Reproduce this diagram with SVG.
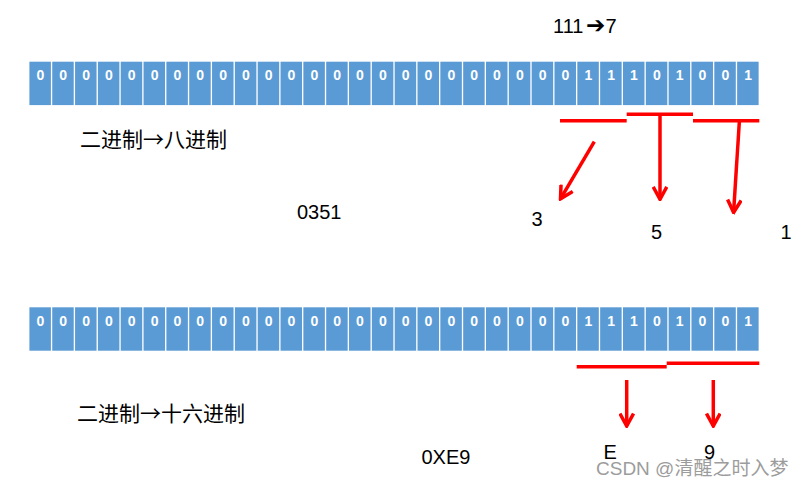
<svg xmlns="http://www.w3.org/2000/svg" width="802" height="488" viewBox="0 0 802 488">
<style>
.c{fill:#5B9BD5}
.b{fill:#fff;font-family:"Liberation Sans",Arial,sans-serif;font-weight:bold;font-size:14px;text-anchor:middle}
.t{fill:#000;font-family:"Liberation Sans",Arial,sans-serif;font-size:20px}
.cn{fill:#000;font-family:"Noto Sans CJK SC","Liberation Sans",sans-serif;font-size:21px}
.wm{fill:#9c9c9c;font-family:"Liberation Sans","Noto Sans CJK SC",sans-serif;font-size:19px}
.r{stroke:#FF0000;stroke-width:3.5;fill:none}
</style>
<defs>
<marker id="ah" markerUnits="userSpaceOnUse" viewBox="0 0 16 16" refX="14" refY="8" markerWidth="16" markerHeight="16" orient="auto">
<path d="M1.5,1.2 L14,8 L1.5,14.8" fill="none" stroke="#FF0000" stroke-width="3.5" stroke-linejoin="miter"/>
</marker>
</defs>
<rect width="802" height="488" fill="#fff"/>
<g id="row1">
<g id="a0" transform="translate(29.4,61.7)"><rect class="c" width="21.5" height="43.4"/><text class="b" x="11" y="18.5">0</text></g>
<g id="a1" transform="translate(52.23,61.7)"><rect class="c" width="21.5" height="43.4"/><text class="b" x="11" y="18.5">0</text></g>
<g id="a2" transform="translate(75.06,61.7)"><rect class="c" width="21.5" height="43.4"/><text class="b" x="11" y="18.5">0</text></g>
<g id="a3" transform="translate(97.89,61.7)"><rect class="c" width="21.5" height="43.4"/><text class="b" x="11" y="18.5">0</text></g>
<g id="a4" transform="translate(120.72,61.7)"><rect class="c" width="21.5" height="43.4"/><text class="b" x="11" y="18.5">0</text></g>
<g id="a5" transform="translate(143.55,61.7)"><rect class="c" width="21.5" height="43.4"/><text class="b" x="11" y="18.5">0</text></g>
<g id="a6" transform="translate(166.38,61.7)"><rect class="c" width="21.5" height="43.4"/><text class="b" x="11" y="18.5">0</text></g>
<g id="a7" transform="translate(189.21,61.7)"><rect class="c" width="21.5" height="43.4"/><text class="b" x="11" y="18.5">0</text></g>
<g id="a8" transform="translate(212.04,61.7)"><rect class="c" width="21.5" height="43.4"/><text class="b" x="11" y="18.5">0</text></g>
<g id="a9" transform="translate(234.87,61.7)"><rect class="c" width="21.5" height="43.4"/><text class="b" x="11" y="18.5">0</text></g>
<g id="a10" transform="translate(257.7,61.7)"><rect class="c" width="21.5" height="43.4"/><text class="b" x="11" y="18.5">0</text></g>
<g id="a11" transform="translate(280.53,61.7)"><rect class="c" width="21.5" height="43.4"/><text class="b" x="11" y="18.5">0</text></g>
<g id="a12" transform="translate(303.36,61.7)"><rect class="c" width="21.5" height="43.4"/><text class="b" x="11" y="18.5">0</text></g>
<g id="a13" transform="translate(326.19,61.7)"><rect class="c" width="21.5" height="43.4"/><text class="b" x="11" y="18.5">0</text></g>
<g id="a14" transform="translate(349.02,61.7)"><rect class="c" width="21.5" height="43.4"/><text class="b" x="11" y="18.5">0</text></g>
<g id="a15" transform="translate(371.85,61.7)"><rect class="c" width="21.5" height="43.4"/><text class="b" x="11" y="18.5">0</text></g>
<g id="a16" transform="translate(394.68,61.7)"><rect class="c" width="21.5" height="43.4"/><text class="b" x="11" y="18.5">0</text></g>
<g id="a17" transform="translate(417.51,61.7)"><rect class="c" width="21.5" height="43.4"/><text class="b" x="11" y="18.5">0</text></g>
<g id="a18" transform="translate(440.34,61.7)"><rect class="c" width="21.5" height="43.4"/><text class="b" x="11" y="18.5">0</text></g>
<g id="a19" transform="translate(463.17,61.7)"><rect class="c" width="21.5" height="43.4"/><text class="b" x="11" y="18.5">0</text></g>
<g id="a20" transform="translate(486,61.7)"><rect class="c" width="21.5" height="43.4"/><text class="b" x="11" y="18.5">0</text></g>
<g id="a21" transform="translate(508.83,61.7)"><rect class="c" width="21.5" height="43.4"/><text class="b" x="11" y="18.5">0</text></g>
<g id="a22" transform="translate(531.66,61.7)"><rect class="c" width="21.5" height="43.4"/><text class="b" x="11" y="18.5">0</text></g>
<g id="a23" transform="translate(554.49,61.7)"><rect class="c" width="21.5" height="43.4"/><text class="b" x="11" y="18.5">0</text></g>
<g id="a24" transform="translate(577.32,61.7)"><rect class="c" width="21.5" height="43.4"/><text class="b" x="11" y="18.5">1</text></g>
<g id="a25" transform="translate(600.15,61.7)"><rect class="c" width="21.5" height="43.4"/><text class="b" x="11" y="18.5">1</text></g>
<g id="a26" transform="translate(622.98,61.7)"><rect class="c" width="21.5" height="43.4"/><text class="b" x="11" y="18.5">1</text></g>
<g id="a27" transform="translate(645.81,61.7)"><rect class="c" width="21.5" height="43.4"/><text class="b" x="11" y="18.5">0</text></g>
<g id="a28" transform="translate(668.64,61.7)"><rect class="c" width="21.5" height="43.4"/><text class="b" x="11" y="18.5">1</text></g>
<g id="a29" transform="translate(691.47,61.7)"><rect class="c" width="21.5" height="43.4"/><text class="b" x="11" y="18.5">0</text></g>
<g id="a30" transform="translate(714.3,61.7)"><rect class="c" width="21.5" height="43.4"/><text class="b" x="11" y="18.5">0</text></g>
<g id="a31" transform="translate(737.13,61.7)"><rect class="c" width="21.5" height="43.4"/><text class="b" x="11" y="18.5">1</text></g>
</g>
<g id="row2">
<g id="b0" transform="translate(29.4,307.3)"><rect class="c" width="21.5" height="43.4"/><text class="b" x="11" y="18.5">0</text></g>
<g id="b1" transform="translate(52.23,307.3)"><rect class="c" width="21.5" height="43.4"/><text class="b" x="11" y="18.5">0</text></g>
<g id="b2" transform="translate(75.06,307.3)"><rect class="c" width="21.5" height="43.4"/><text class="b" x="11" y="18.5">0</text></g>
<g id="b3" transform="translate(97.89,307.3)"><rect class="c" width="21.5" height="43.4"/><text class="b" x="11" y="18.5">0</text></g>
<g id="b4" transform="translate(120.72,307.3)"><rect class="c" width="21.5" height="43.4"/><text class="b" x="11" y="18.5">0</text></g>
<g id="b5" transform="translate(143.55,307.3)"><rect class="c" width="21.5" height="43.4"/><text class="b" x="11" y="18.5">0</text></g>
<g id="b6" transform="translate(166.38,307.3)"><rect class="c" width="21.5" height="43.4"/><text class="b" x="11" y="18.5">0</text></g>
<g id="b7" transform="translate(189.21,307.3)"><rect class="c" width="21.5" height="43.4"/><text class="b" x="11" y="18.5">0</text></g>
<g id="b8" transform="translate(212.04,307.3)"><rect class="c" width="21.5" height="43.4"/><text class="b" x="11" y="18.5">0</text></g>
<g id="b9" transform="translate(234.87,307.3)"><rect class="c" width="21.5" height="43.4"/><text class="b" x="11" y="18.5">0</text></g>
<g id="b10" transform="translate(257.7,307.3)"><rect class="c" width="21.5" height="43.4"/><text class="b" x="11" y="18.5">0</text></g>
<g id="b11" transform="translate(280.53,307.3)"><rect class="c" width="21.5" height="43.4"/><text class="b" x="11" y="18.5">0</text></g>
<g id="b12" transform="translate(303.36,307.3)"><rect class="c" width="21.5" height="43.4"/><text class="b" x="11" y="18.5">0</text></g>
<g id="b13" transform="translate(326.19,307.3)"><rect class="c" width="21.5" height="43.4"/><text class="b" x="11" y="18.5">0</text></g>
<g id="b14" transform="translate(349.02,307.3)"><rect class="c" width="21.5" height="43.4"/><text class="b" x="11" y="18.5">0</text></g>
<g id="b15" transform="translate(371.85,307.3)"><rect class="c" width="21.5" height="43.4"/><text class="b" x="11" y="18.5">0</text></g>
<g id="b16" transform="translate(394.68,307.3)"><rect class="c" width="21.5" height="43.4"/><text class="b" x="11" y="18.5">0</text></g>
<g id="b17" transform="translate(417.51,307.3)"><rect class="c" width="21.5" height="43.4"/><text class="b" x="11" y="18.5">0</text></g>
<g id="b18" transform="translate(440.34,307.3)"><rect class="c" width="21.5" height="43.4"/><text class="b" x="11" y="18.5">0</text></g>
<g id="b19" transform="translate(463.17,307.3)"><rect class="c" width="21.5" height="43.4"/><text class="b" x="11" y="18.5">0</text></g>
<g id="b20" transform="translate(486,307.3)"><rect class="c" width="21.5" height="43.4"/><text class="b" x="11" y="18.5">0</text></g>
<g id="b21" transform="translate(508.83,307.3)"><rect class="c" width="21.5" height="43.4"/><text class="b" x="11" y="18.5">0</text></g>
<g id="b22" transform="translate(531.66,307.3)"><rect class="c" width="21.5" height="43.4"/><text class="b" x="11" y="18.5">0</text></g>
<g id="b23" transform="translate(554.49,307.3)"><rect class="c" width="21.5" height="43.4"/><text class="b" x="11" y="18.5">0</text></g>
<g id="b24" transform="translate(577.32,307.3)"><rect class="c" width="21.5" height="43.4"/><text class="b" x="11" y="18.5">1</text></g>
<g id="b25" transform="translate(600.15,307.3)"><rect class="c" width="21.5" height="43.4"/><text class="b" x="11" y="18.5">1</text></g>
<g id="b26" transform="translate(622.98,307.3)"><rect class="c" width="21.5" height="43.4"/><text class="b" x="11" y="18.5">1</text></g>
<g id="b27" transform="translate(645.81,307.3)"><rect class="c" width="21.5" height="43.4"/><text class="b" x="11" y="18.5">0</text></g>
<g id="b28" transform="translate(668.64,307.3)"><rect class="c" width="21.5" height="43.4"/><text class="b" x="11" y="18.5">1</text></g>
<g id="b29" transform="translate(691.47,307.3)"><rect class="c" width="21.5" height="43.4"/><text class="b" x="11" y="18.5">0</text></g>
<g id="b30" transform="translate(714.3,307.3)"><rect class="c" width="21.5" height="43.4"/><text class="b" x="11" y="18.5">0</text></g>
<g id="b31" transform="translate(737.13,307.3)"><rect class="c" width="21.5" height="43.4"/><text class="b" x="11" y="18.5">1</text></g>
</g>
<g id="connectors">
<line class="r" x1="560" y1="120.7" x2="626.7" y2="120.7"/>
<line class="r" x1="626.7" y1="114.2" x2="693" y2="114.2"/>
<line class="r" x1="693" y1="120.7" x2="759.3" y2="120.7"/>
<line class="r" x1="594.3" y1="141.7" x2="560.5" y2="198.8" marker-end="url(#ah)"/>
<line class="r" x1="660" y1="116" x2="660" y2="199.3" marker-end="url(#ah)"/>
<line class="r" x1="739.3" y1="122" x2="733.6" y2="212.5" marker-end="url(#ah)"/>
<line class="r" x1="576.7" y1="366.7" x2="666.7" y2="366.7"/>
<line class="r" x1="666.7" y1="363.3" x2="759.3" y2="363.3"/>
<line class="r" x1="626.7" y1="380" x2="626.7" y2="426" marker-end="url(#ah)"/>
<line class="r" x1="713.3" y1="380" x2="713.3" y2="426" marker-end="url(#ah)"/>
</g>
<g id="labels">
<text class="t" y="33.3"><tspan x="553">111</tspan><tspan x="586" font-family="'DejaVu Sans',sans-serif" font-weight="bold" font-size="23">➔</tspan><tspan x="605.5">7</tspan></text>
<text class="cn" x="80" y="146.5">二进制→八进制</text>
<text class="t" x="297" y="219.3">0351</text>
<text class="t" x="531.5" y="225.7">3</text>
<text class="t" x="651" y="239.3">5</text>
<text class="t" x="780.5" y="239.3">1</text>
<text class="cn" x="77" y="420.5">二进制→十六进制</text>
<text class="t" x="421.5" y="464.3">0XE9</text>
<text class="t" x="603.5" y="459.3">E</text>
<text class="t" x="704" y="459.3">9</text>
<text class="wm" x="596" y="475">CSDN @清醒之时入梦</text>
</g>
</svg>
